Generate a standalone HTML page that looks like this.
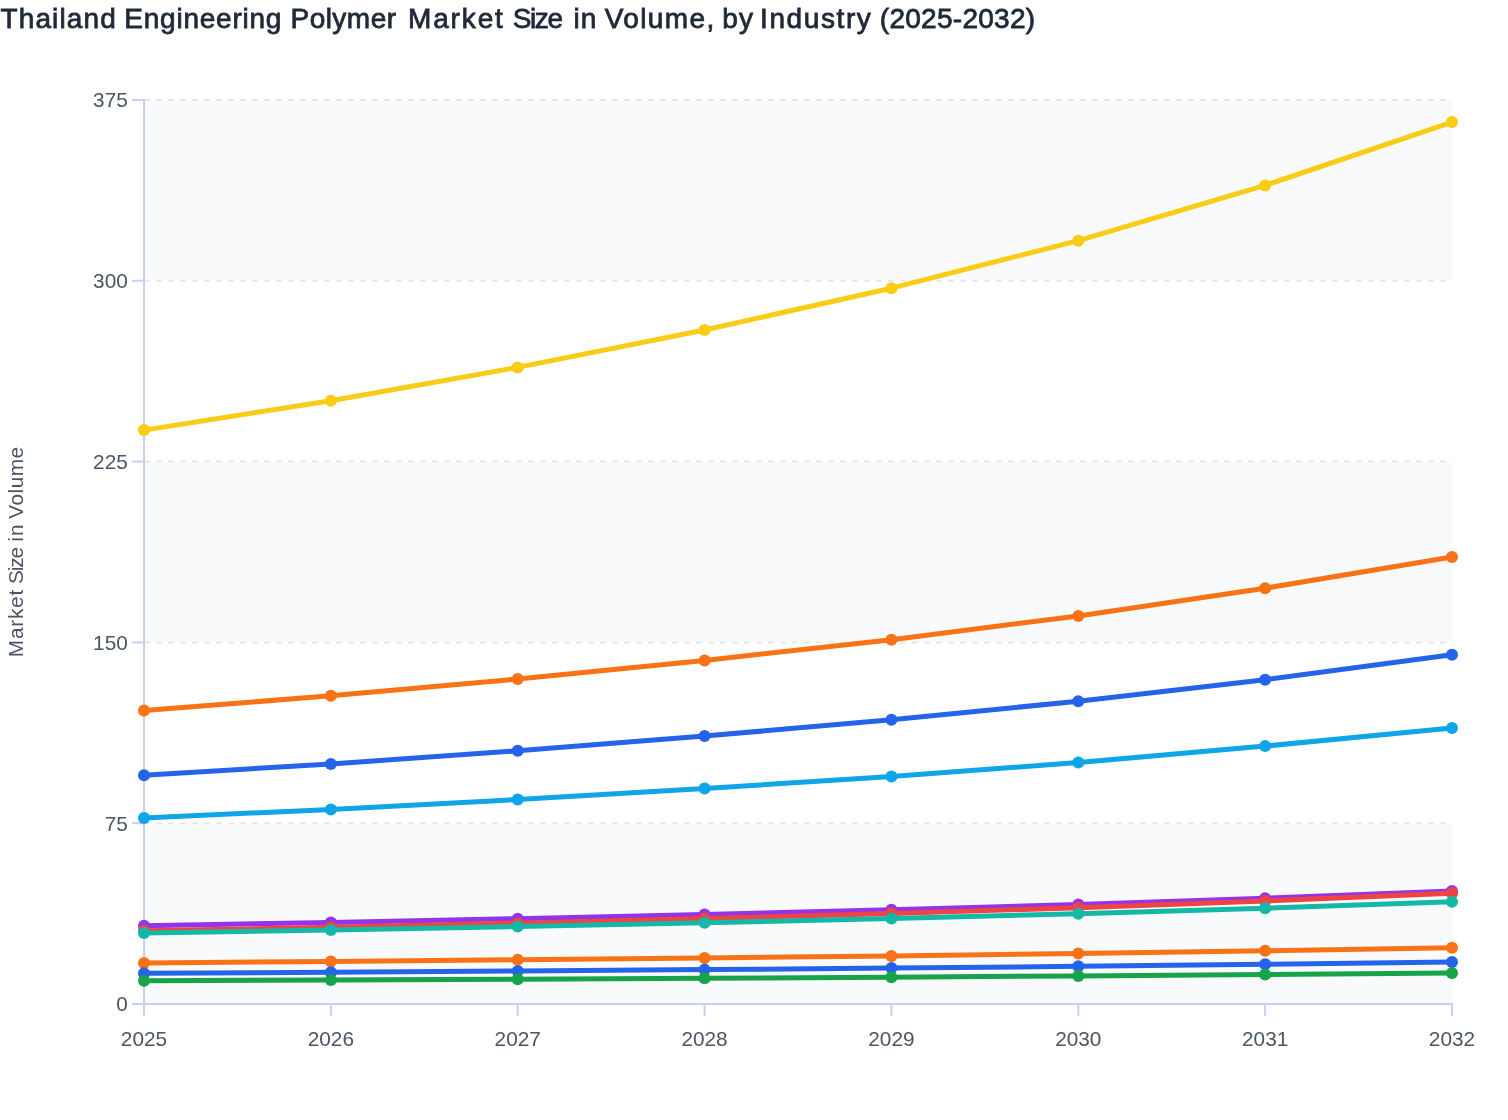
<!DOCTYPE html>
<html><head><meta charset="utf-8"><title>Thailand Engineering Polymer Market Size in Volume, by Industry (2025-2032)</title>
<style>
html,body{margin:0;padding:0;background:#fff;}
body{width:1508px;height:1120px;overflow:hidden;font-family:"Liberation Sans",sans-serif;}
svg{display:block;will-change:transform;}
text{font-family:"Liberation Sans",sans-serif;}
.tick{font-size:20.8px;fill:#4b5563;}
.title{font-size:28px;fill:#1f2937;stroke:#1f2937;stroke-width:0.8px;}
.ytitle{font-size:20.8px;fill:#4b5563;}
</style></head><body>
<svg width="1508" height="1120" viewBox="0 0 1508 1120">
<rect x="0" y="0" width="1508" height="1120" fill="#ffffff"/>
<rect x="144" y="100" width="1308" height="180" fill="#f9fafb" shape-rendering="crispEdges"/>
<rect x="144" y="462" width="1308" height="180" fill="#f9fafb" shape-rendering="crispEdges"/>
<rect x="144" y="824" width="1308" height="180" fill="#f9fafb" shape-rendering="crispEdges"/>
<line x1="144" x2="1452" y1="823.20" y2="823.20" stroke="#e5e7eb" stroke-width="2" stroke-dasharray="6,6"/>
<line x1="144" x2="1452" y1="642.40" y2="642.40" stroke="#e5e7eb" stroke-width="2" stroke-dasharray="6,6"/>
<line x1="144" x2="1452" y1="461.60" y2="461.60" stroke="#e5e7eb" stroke-width="2" stroke-dasharray="6,6"/>
<line x1="144" x2="1452" y1="280.80" y2="280.80" stroke="#e5e7eb" stroke-width="2" stroke-dasharray="6,6"/>
<line x1="144" x2="1452" y1="100.00" y2="100.00" stroke="#e5e7eb" stroke-width="2" stroke-dasharray="6,6"/>
<g stroke="#c5d2f5" stroke-width="2" fill="none">
<line x1="144" x2="144" y1="99" y2="1005"/>
<line x1="143" x2="1453" y1="1004" y2="1004"/>
<line x1="132" x2="144" y1="1004.00" y2="1004.00"/>
<line x1="132" x2="144" y1="823.20" y2="823.20"/>
<line x1="132" x2="144" y1="642.40" y2="642.40"/>
<line x1="132" x2="144" y1="461.60" y2="461.60"/>
<line x1="132" x2="144" y1="280.80" y2="280.80"/>
<line x1="132" x2="144" y1="100.00" y2="100.00"/>
<line x1="144.00" x2="144.00" y1="1004" y2="1016"/>
<line x1="330.86" x2="330.86" y1="1004" y2="1016"/>
<line x1="517.71" x2="517.71" y1="1004" y2="1016"/>
<line x1="704.57" x2="704.57" y1="1004" y2="1016"/>
<line x1="891.43" x2="891.43" y1="1004" y2="1016"/>
<line x1="1078.29" x2="1078.29" y1="1004" y2="1016"/>
<line x1="1265.14" x2="1265.14" y1="1004" y2="1016"/>
<line x1="1452.00" x2="1452.00" y1="1004" y2="1016"/>
</g>
<polyline points="144.00,962.90 330.86,961.46 517.71,959.80 704.57,957.96 891.43,955.89 1078.29,953.55 1265.14,950.81 1452.00,947.70" fill="none" stroke="#f97316" stroke-width="5" stroke-linejoin="round" stroke-linecap="butt"/>
<g fill="#f97316"><circle cx="144.00" cy="962.90" r="6"/><circle cx="330.86" cy="961.46" r="6"/><circle cx="517.71" cy="959.80" r="6"/><circle cx="704.57" cy="957.96" r="6"/><circle cx="891.43" cy="955.89" r="6"/><circle cx="1078.29" cy="953.55" r="6"/><circle cx="1265.14" cy="950.81" r="6"/><circle cx="1452.00" cy="947.70" r="6"/></g>
<polyline points="144.00,973.30 330.86,972.23 517.71,971.00 704.57,969.62 891.43,968.09 1078.29,966.35 1265.14,964.31 1452.00,962.00" fill="none" stroke="#2563eb" stroke-width="5" stroke-linejoin="round" stroke-linecap="butt"/>
<g fill="#2563eb"><circle cx="144.00" cy="973.30" r="6"/><circle cx="330.86" cy="972.23" r="6"/><circle cx="517.71" cy="971.00" r="6"/><circle cx="704.57" cy="969.62" r="6"/><circle cx="891.43" cy="968.09" r="6"/><circle cx="1078.29" cy="966.35" r="6"/><circle cx="1265.14" cy="964.31" r="6"/><circle cx="1452.00" cy="962.00" r="6"/></g>
<polyline points="144.00,980.80 330.86,980.05 517.71,979.19 704.57,978.23 891.43,977.16 1078.29,975.94 1265.14,974.52 1452.00,972.90" fill="none" stroke="#16a34a" stroke-width="5" stroke-linejoin="round" stroke-linecap="butt"/>
<g fill="#16a34a"><circle cx="144.00" cy="980.80" r="6"/><circle cx="330.86" cy="980.05" r="6"/><circle cx="517.71" cy="979.19" r="6"/><circle cx="704.57" cy="978.23" r="6"/><circle cx="891.43" cy="977.16" r="6"/><circle cx="1078.29" cy="975.94" r="6"/><circle cx="1265.14" cy="974.52" r="6"/><circle cx="1452.00" cy="972.90" r="6"/></g>
<polyline points="144.00,430.10 330.86,400.70 517.71,367.40 704.57,330.00 891.43,288.20 1078.29,240.65 1265.14,185.40 1452.00,122.10" fill="none" stroke="#facc15" stroke-width="5" stroke-linejoin="round" stroke-linecap="butt"/>
<g fill="#facc15"><circle cx="144.00" cy="430.10" r="6"/><circle cx="330.86" cy="400.70" r="6"/><circle cx="517.71" cy="367.40" r="6"/><circle cx="704.57" cy="330.00" r="6"/><circle cx="891.43" cy="288.20" r="6"/><circle cx="1078.29" cy="240.65" r="6"/><circle cx="1265.14" cy="185.40" r="6"/><circle cx="1452.00" cy="122.10" r="6"/></g>
<polyline points="144.00,817.90 330.86,809.40 517.71,799.60 704.57,788.60 891.43,776.40 1078.29,762.60 1265.14,746.10 1452.00,727.90" fill="none" stroke="#0ea5e9" stroke-width="5" stroke-linejoin="round" stroke-linecap="butt"/>
<g fill="#0ea5e9"><circle cx="144.00" cy="817.90" r="6"/><circle cx="330.86" cy="809.40" r="6"/><circle cx="517.71" cy="799.60" r="6"/><circle cx="704.57" cy="788.60" r="6"/><circle cx="891.43" cy="776.40" r="6"/><circle cx="1078.29" cy="762.60" r="6"/><circle cx="1265.14" cy="746.10" r="6"/><circle cx="1452.00" cy="727.90" r="6"/></g>
<polyline points="144.00,925.70 330.86,922.41 517.71,918.65 704.57,914.44 891.43,909.75 1078.29,904.42 1265.14,898.18 1452.00,891.10" fill="none" stroke="#9333ea" stroke-width="5" stroke-linejoin="round" stroke-linecap="butt"/>
<g fill="#9333ea"><circle cx="144.00" cy="925.70" r="6"/><circle cx="330.86" cy="922.41" r="6"/><circle cx="517.71" cy="918.65" r="6"/><circle cx="704.57" cy="914.44" r="6"/><circle cx="891.43" cy="909.75" r="6"/><circle cx="1078.29" cy="904.42" r="6"/><circle cx="1265.14" cy="898.18" r="6"/><circle cx="1452.00" cy="891.10" r="6"/></g>
<polyline points="144.00,930.80 330.86,927.24 517.71,923.16 704.57,918.60 891.43,913.51 1078.29,907.73 1265.14,900.97 1452.00,893.30" fill="none" stroke="#ef4444" stroke-width="5" stroke-linejoin="round" stroke-linecap="butt"/>
<g fill="#ef4444"><circle cx="144.00" cy="930.80" r="6"/><circle cx="330.86" cy="927.24" r="6"/><circle cx="517.71" cy="923.16" r="6"/><circle cx="704.57" cy="918.60" r="6"/><circle cx="891.43" cy="913.51" r="6"/><circle cx="1078.29" cy="907.73" r="6"/><circle cx="1265.14" cy="900.97" r="6"/><circle cx="1452.00" cy="893.30" r="6"/></g>
<polyline points="144.00,932.90 330.86,929.95 517.71,926.56 704.57,922.78 891.43,918.56 1078.29,913.77 1265.14,908.16 1452.00,901.80" fill="none" stroke="#14b8a6" stroke-width="5" stroke-linejoin="round" stroke-linecap="butt"/>
<g fill="#14b8a6"><circle cx="144.00" cy="932.90" r="6"/><circle cx="330.86" cy="929.95" r="6"/><circle cx="517.71" cy="926.56" r="6"/><circle cx="704.57" cy="922.78" r="6"/><circle cx="891.43" cy="918.56" r="6"/><circle cx="1078.29" cy="913.77" r="6"/><circle cx="1265.14" cy="908.16" r="6"/><circle cx="1452.00" cy="901.80" r="6"/></g>
<polyline points="144.00,710.50 330.86,695.85 517.71,679.00 704.57,660.45 891.43,639.70 1078.29,615.90 1265.14,588.20 1452.00,557.00" fill="none" stroke="#f97316" stroke-width="5" stroke-linejoin="round" stroke-linecap="butt"/>
<g fill="#f97316"><circle cx="144.00" cy="710.50" r="6"/><circle cx="330.86" cy="695.85" r="6"/><circle cx="517.71" cy="679.00" r="6"/><circle cx="704.57" cy="660.45" r="6"/><circle cx="891.43" cy="639.70" r="6"/><circle cx="1078.29" cy="615.90" r="6"/><circle cx="1265.14" cy="588.20" r="6"/><circle cx="1452.00" cy="557.00" r="6"/></g>
<polyline points="144.00,775.20 330.86,763.95 517.71,750.80 704.57,736.10 891.43,719.70 1078.29,701.20 1265.14,679.70 1452.00,654.80" fill="none" stroke="#2563eb" stroke-width="5" stroke-linejoin="round" stroke-linecap="butt"/>
<g fill="#2563eb"><circle cx="144.00" cy="775.20" r="6"/><circle cx="330.86" cy="763.95" r="6"/><circle cx="517.71" cy="750.80" r="6"/><circle cx="704.57" cy="736.10" r="6"/><circle cx="891.43" cy="719.70" r="6"/><circle cx="1078.29" cy="701.20" r="6"/><circle cx="1265.14" cy="679.70" r="6"/><circle cx="1452.00" cy="654.80" r="6"/></g>
<text class="tick" x="127.8" y="1011.30" text-anchor="end">0</text>
<text class="tick" x="127.8" y="830.50" text-anchor="end">75</text>
<text class="tick" x="127.8" y="649.70" text-anchor="end">150</text>
<text class="tick" x="127.8" y="468.90" text-anchor="end">225</text>
<text class="tick" x="127.8" y="288.10" text-anchor="end">300</text>
<text class="tick" x="127.8" y="107.30" text-anchor="end">375</text>
<text class="tick" x="144.00" y="1046.2" text-anchor="middle">2025</text>
<text class="tick" x="330.86" y="1046.2" text-anchor="middle">2026</text>
<text class="tick" x="517.71" y="1046.2" text-anchor="middle">2027</text>
<text class="tick" x="704.57" y="1046.2" text-anchor="middle">2028</text>
<text class="tick" x="891.43" y="1046.2" text-anchor="middle">2029</text>
<text class="tick" x="1078.29" y="1046.2" text-anchor="middle">2030</text>
<text class="tick" x="1265.14" y="1046.2" text-anchor="middle">2031</text>
<text class="tick" x="1452.00" y="1046.2" text-anchor="middle">2032</text>
<g class="ytitle"><text transform="translate(23.0,657.2) rotate(-90)" style="letter-spacing:0.76px">Market</text><text transform="translate(23.0,583.9) rotate(-90)" style="letter-spacing:-1.133px">Size</text><text transform="translate(23.0,541.7) rotate(-90)" style="letter-spacing:1.0px">in</text><text transform="translate(23.0,518.75) rotate(-90)" style="letter-spacing:0.49px">Volume</text></g>
<g class="title"><text x="0.5" y="27.85" style="letter-spacing:1.114px">Thailand</text><text x="124.3" y="27.85" style="letter-spacing:0.77px">Engineering</text><text x="290.5" y="27.85" style="letter-spacing:0.467px">Polymer</text><text x="408" y="27.85" style="letter-spacing:1.86px">Market</text><text x="512.8" y="27.85" style="letter-spacing:-1.433px">Size</text><text x="573.5" y="27.85" style="letter-spacing:1.0px">in</text><text x="604.8" y="27.85" style="letter-spacing:1.383px">Volume,</text><text x="722.2" y="27.85" style="letter-spacing:1.3px">by</text><text x="760" y="27.85" style="letter-spacing:1.6px">Industry</text><text x="879.8" y="27.85" style="letter-spacing:0.28px">(2025-2032)</text></g>
</svg>
</body></html>
